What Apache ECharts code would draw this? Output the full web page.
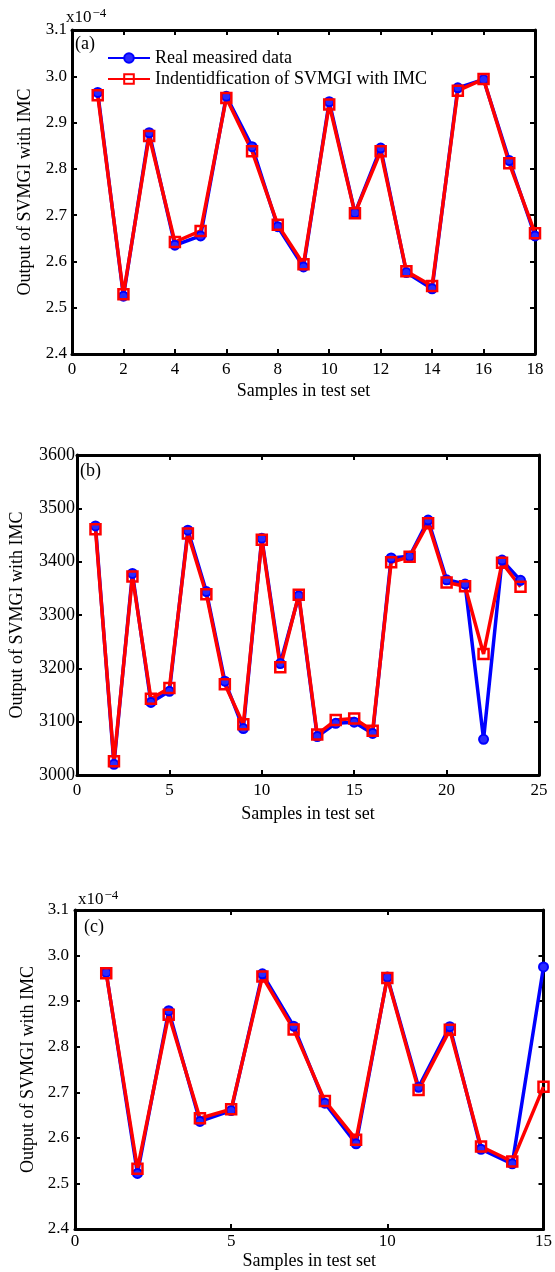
<!DOCTYPE html>
<html>
<head>
<meta charset="utf-8">
<script src="https://cdn.jsdelivr.net/npm/echarts@6/dist/echarts.min.js"></script>
<style>html,body{margin:0;padding:0;background:#fff;}#c{width:555px;height:1272px;}</style>
</head>
<body>
<div id="c"></div>
<script>
// Panel (a): values in units of 1e-4
var aSamples = [1,2,3,4,5,6,7,8,9,10,11,12,13,14,15,16,17,18];
var aReal = [2.965,2.525,2.878,2.635,2.655,2.957,2.848,2.675,2.588,2.945,2.705,2.845,2.576,2.541,2.975,2.993,2.818,2.655];
var aIdent = [2.959,2.529,2.871,2.642,2.666,2.953,2.838,2.679,2.594,2.939,2.704,2.838,2.579,2.547,2.969,2.994,2.812,2.661];
// Panel (b)
var bSamples = [1,2,3,4,5,6,7,8,9,10,11,12,13,14,15,16,17,18,19,20,21,22,23,24];
var bReal = [3467,3020,3378,3136,3157,3459,3344,3176,3087,3444,3209,3336,3072,3097,3099,3078,3407,3410,3478,3366,3358,3067,3403,3365];
var bIdent = [3461,3026,3372,3143,3163,3453,3339,3170,3095,3441,3202,3338,3076,3103,3106,3083,3399,3409,3472,3361,3354,3227,3398,3353];
// Panel (c): values in units of 1e-4
var cSamples = [1,2,3,4,5,6,7,8,9,10,11,12,13,14,15];
var cReal = [2.963,2.522,2.879,2.636,2.660,2.960,2.845,2.676,2.587,2.953,2.711,2.844,2.575,2.543,2.975];
var cIdent = [2.961,2.532,2.870,2.643,2.663,2.954,2.838,2.681,2.596,2.951,2.705,2.837,2.581,2.548,2.712];

var seriesNames = ['Real measired data', 'Indentidfication of SVMGI with IMC'];
var xTitle = 'Samples in test set';
var yTitle = 'Output of SVMGI with IMC';
var panelLabels = ['(a)', '(b)', '(c)'];

var FONT = 'Liberation Serif';
var BLUE = '#0000ff', RED = '#ff0000';

function pairs(xs, ys) { return xs.map(function (x, i) { return [x, ys[i]]; }); }

var grids = [
  {left: 72, right: 20, top: 30, height: 324},
  {left: 74, right: 16, top: 455, height: 320},
  {left: 75, right: 7, top: 910, height: 319}
];
var xCfg = [
  {min: 0, max: 18, interval: 2, labelMargin: 7, nameGap: 28},
  {min: 0, max: 25, interval: 5, labelMargin: 7, nameGap: 30},
  {min: 0, max: 15, interval: 5, labelMargin: 4, nameGap: 23}
];
var yCfg = [
  {min: 2.4, max: 3.1, interval: 0.1, dec: 1, labelMargin: 5, nameGap: 38, fs: 17},
  {min: 3000, max: 3600, interval: 100, dec: 0, labelMargin: 2, nameGap: 51, fs: 18},
  {min: 2.4, max: 3.1, interval: 0.1, dec: 1, labelMargin: 6, nameGap: 38, fs: 17}
];

var axisLine = {show: true, onZero: false, lineStyle: {color: '#000', width: 3}};
var xAxis = [], yAxis = [], series = [];
grids.forEach(function (g, i) {
  var xc = xCfg[i], yc = yCfg[i];
  xAxis.push({
    type: 'value', gridIndex: i, min: xc.min, max: xc.max, interval: xc.interval,
    position: 'bottom', axisLine: axisLine,
    axisTick: {inside: true, length: 5, lineStyle: {color: '#000', width: 2}},
    axisLabel: {color: '#000', fontFamily: FONT, fontSize: 17, margin: xc.labelMargin},
    splitLine: {show: false},
    name: xTitle, nameLocation: 'middle', nameGap: xc.nameGap,
    nameTextStyle: {color: '#000', fontFamily: FONT, fontSize: 18}
  });
  xAxis.push({
    type: 'value', gridIndex: i, min: xc.min, max: xc.max, interval: xc.interval,
    position: 'top', axisLine: axisLine,
    axisTick: {inside: true, length: 5, lineStyle: {color: '#000', width: 2}},
    axisLabel: {show: false}, splitLine: {show: false}
  });
  yAxis.push({
    type: 'value', gridIndex: i, min: yc.min, max: yc.max, interval: yc.interval,
    position: 'left', axisLine: axisLine,
    axisTick: {inside: true, length: 5, lineStyle: {color: '#000', width: 2}},
    axisLabel: {color: '#000', fontFamily: FONT, fontSize: yc.fs, margin: yc.labelMargin,
      formatter: function (v) { return Number(v).toFixed(yc.dec); }},
    splitLine: {show: false},
    name: yTitle, nameLocation: 'middle', nameGap: yc.nameGap,
    nameTextStyle: {color: '#000', fontFamily: FONT, fontSize: 18}
  });
  yAxis.push({
    type: 'value', gridIndex: i, min: yc.min, max: yc.max, interval: yc.interval,
    position: 'right', axisLine: axisLine,
    axisTick: {inside: true, length: 5, lineStyle: {color: '#000', width: 2}},
    axisLabel: {show: false}, splitLine: {show: false}
  });
});

var panelData = [[aSamples, aReal, aIdent], [bSamples, bReal, bIdent], [cSamples, cReal, cIdent]];
panelData.forEach(function (pd, i) {
  series.push({
    name: seriesNames[0], type: 'line', xAxisIndex: i * 2, yAxisIndex: i * 2,
    data: pairs(pd[0], pd[1]), clip: false, animation: false,
    symbol: 'circle', symbolSize: 9,
    lineStyle: {color: BLUE, width: 3.5},
    itemStyle: {color: '#2a2aff', borderColor: BLUE, borderWidth: 2}
  });
  series.push({
    name: seriesNames[1], type: 'line', xAxisIndex: i * 2, yAxisIndex: i * 2,
    data: pairs(pd[0], pd[2]), clip: false, animation: false,
    symbol: 'rect', symbolSize: 10,
    lineStyle: {color: RED, width: 3.5},
    itemStyle: {color: 'rgba(255,255,255,0)', borderColor: RED, borderWidth: 2.5}
  });
});

var expText = function (x, y) {
  return {
    type: 'text', left: x, top: y,
    style: {
      text: '{b|x10}{s|\u22124}',
      rich: {
        b: {fontFamily: FONT, fontSize: 17, fill: '#000', verticalAlign: 'bottom'},
        s: {fontFamily: FONT, fontSize: 13, fill: '#000', verticalAlign: 'top', padding: [0, 0, 6, 1]}
      }
    }
  };
};
var lbl = function (t, x, y) {
  return {type: 'text', left: x, top: y, style: {text: t, fontFamily: FONT, fontSize: 18, fill: '#000'}};
};

var option = {
  backgroundColor: '#fff',
  animation: false,
  grid: grids,
  xAxis: xAxis,
  yAxis: yAxis,
  legend: {
    data: seriesNames, orient: 'vertical', left: 102, top: 44,
    itemWidth: 42, itemHeight: 12, itemGap: 3,
    textStyle: {color: '#000', fontFamily: FONT, fontSize: 18}
  },
  graphic: [
    expText(66, 7), expText(78, 889),
    lbl(panelLabels[0], 75, 35), lbl(panelLabels[1], 80, 462), lbl(panelLabels[2], 84, 918)
  ],
  series: series
};
var chart = echarts.init(document.getElementById('c'), null, {renderer: 'canvas'});
chart.setOption(option);
</script>
</body>
</html>
